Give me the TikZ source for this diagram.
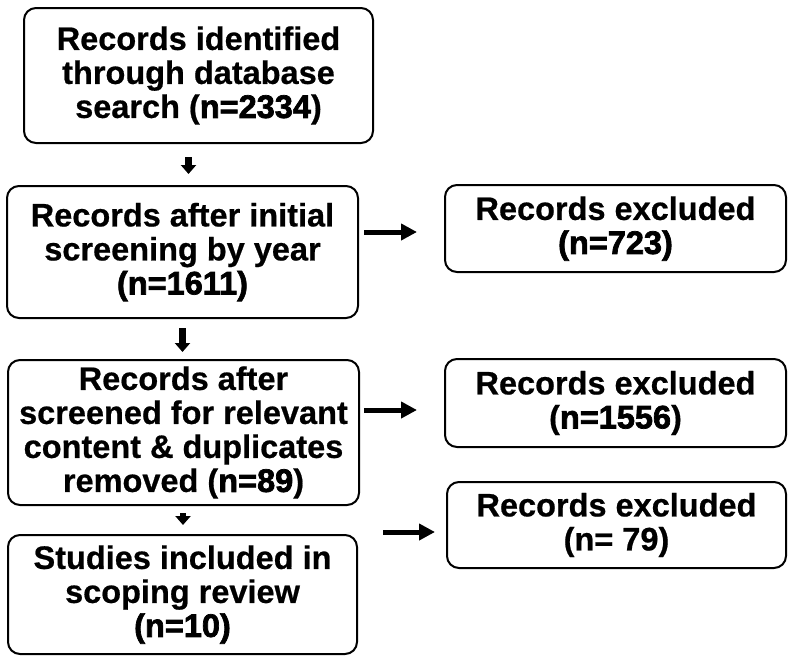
\documentclass[tikz,border=0pt]{standalone}
\usepackage{fontspec}
\setmainfont{Liberation Sans}[BoldFeatures={FakeBold=0.6}]
\newfontface\heavy[FakeBold=2.2]{Liberation Sans Bold}
\usepackage{tikz}
\usetikzlibrary{arrows.meta}
\tikzset{
  flowbox/.style={draw, line width=2pt, rounded corners=12pt, align=center,
    inner sep=0pt, font=\fontsize{32.5}{34}\selectfont\bfseries},
  downarr/.style={line width=6.5pt, -{Triangle[length=9pt,width=15pt]}},
  sidearr/.style={line width=5pt, -{Triangle[length=16pt,width=16pt]}}
}
\newcommand{\cnt}[1]{{\heavy #1}}

\begin{document}
\begin{tikzpicture}[x=1pt,y=-1pt]
\useasboundingbox (0,0) rectangle (789,656);
% left column of boxes
\node[flowbox, minimum width=349pt, minimum height=135pt] (ident) at (198.5,75.5)
  {Records identified\\through database\\search (\cnt{n=2334})};
\node[flowbox, minimum width=351pt, minimum height=132pt] (screen) at (182.5,252)
  {Records after initial\\screening by year\\\cnt{(n=1611)}};
\node[flowbox, minimum width=351pt, minimum height=145pt] (relev) at (183.5,432.5)
  {Records after\\screened for relevant\\content \& duplicates\\removed (\cnt{n=89})};
\node[flowbox, minimum width=349pt, minimum height=119pt] (incl) at (182.5,594.5)
  {Studies included in\\scoping review\\\cnt{(n=10)}};
% right column of boxes
\node[flowbox, minimum width=341pt, minimum height=87pt] (excl1) at (615.5,228.5)
  {Records excluded\\\cnt{(n=723)}};
\node[flowbox, minimum width=341pt, minimum height=88pt] (excl2) at (615.5,403)
  {Records excluded\\(\cnt{n=1556})};
\node[flowbox, minimum width=339pt, minimum height=86pt] (excl3) at (616.5,525)
  {Records excluded\\(n= 79)};
% down arrows
\draw[downarr, shorten <=13pt, shorten >=11pt] ([xshift=-10pt]ident.south) -- ([xshift=6pt]screen.north);
\draw[downarr, shorten <=9pt, shorten >=7pt] (screen.south) -- ([xshift=-1pt]relev.north);
\draw[downarr, shorten <=7pt, shorten >=9pt] ([xshift=-0.5pt]relev.south) -- ([xshift=0.5pt]incl.north);
% side arrows
\coordinate (e1) at ([yshift=-3.5pt]excl1.west);
\coordinate (e2) at ([yshift=-7pt]excl2.west);
\coordinate (e3) at ([yshift=-7pt]excl3.west);
\draw[sidearr, shorten <=5pt, shorten >=27pt] (screen.east |- e1) -- (e1);
\draw[sidearr, shorten <=4pt, shorten >=27pt] (relev.east |- e2) -- (e2);
\draw[sidearr, shorten <=23pt, shorten >=11pt] (relev.east |- e3) -- (e3);
\end{tikzpicture}
\end{document}
